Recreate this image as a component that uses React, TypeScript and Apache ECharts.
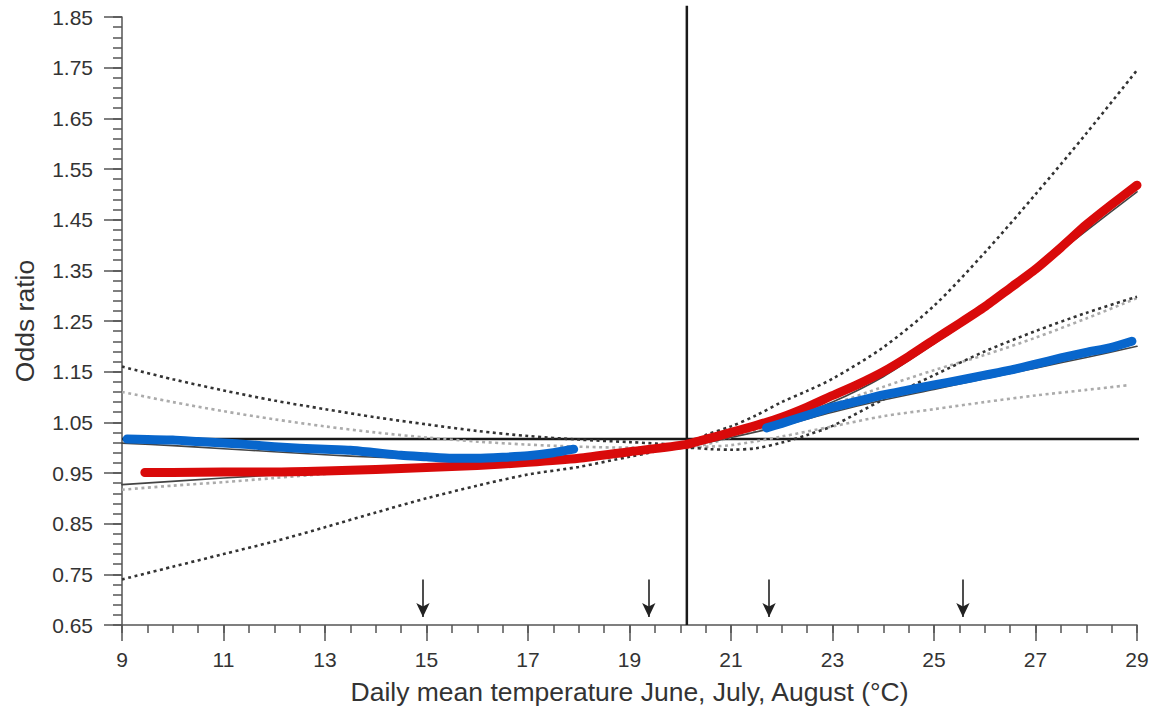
import React, { useEffect, useRef } from 'react';
import * as echarts from 'echarts';

// Axis ticks / labels
const X_TICKS = [9, 11, 13, 15, 17, 19, 21, 23, 25, 27, 29];
const Y_TICKS = [0.65, 0.75, 0.85, 0.95, 1.05, 1.15, 1.25, 1.35, 1.45, 1.55, 1.65, 1.75, 1.85];
const X_MINOR: number[] = [];
for (let i = 0; i <= 40; i++) X_MINOR.push(9 + i * 0.5);
const Y_MINOR: number[] = [];
for (let i = 0; i <= 60; i++) Y_MINOR.push(Math.round((0.65 + i * 0.02) * 1000) / 1000);

const X_TITLE = 'Daily mean temperature June, July, August (°C)';
const Y_TITLE = 'Odds ratio';

// Reference lines and arrows
const REF_X = 20.13;
const REF_Y = 1.017;
const REF_H_X = [9, 29.32];
const REF_V_Y = [0.65, 1.872];
const ARROW_X = [14.93, 19.38, 21.75, 25.57];
const ARROW_TOP = 0.74;
const ARROW_TIP = 0.666;

// Red observed curve
const RED_X = [9.45, 10, 11, 12, 13, 14, 15, 16, 17, 18, 19, 20.1, 20.4, 21, 21.5, 22, 22.5, 23, 23.5, 24, 24.5, 25, 25.5, 26, 26.5, 27, 27.5, 28, 28.5, 29];
const RED_Y = [0.951, 0.951, 0.952, 0.952, 0.954, 0.957, 0.961, 0.965, 0.971, 0.979, 0.992, 1.006, 1.014, 1.03, 1.044, 1.06, 1.08, 1.103, 1.125, 1.15, 1.18, 1.213, 1.245, 1.278, 1.315, 1.352, 1.395, 1.44, 1.48, 1.518];

// Blue observed curve (two segments)
const BLUE1_X = [9.1, 9.5, 10, 10.5, 11, 11.5, 12, 12.5, 13, 13.5, 14, 14.5, 15, 15.5, 16, 16.5, 17, 17.5, 17.9];
const BLUE1_Y = [1.017, 1.016, 1.015, 1.012, 1.009, 1.006, 1.002, 0.999, 0.997, 0.995, 0.99, 0.985, 0.982, 0.979, 0.979, 0.981, 0.984, 0.99, 0.997];
const BLUE2_X = [21.7, 22, 22.5, 23, 23.5, 24, 24.5, 25, 25.5, 26, 26.5, 27, 27.5, 28, 28.5, 28.9];
const BLUE2_Y = [1.039, 1.048, 1.064, 1.08, 1.092, 1.104, 1.114, 1.124, 1.133, 1.143, 1.153, 1.165, 1.177, 1.188, 1.198, 1.21];

// Fitted curves
const FIT_RED_X = [9, 11, 13, 15, 17, 19, 20.1, 21, 22, 23, 24, 25, 26, 27, 28, 29];
const FIT_RED_Y = [0.927, 0.94, 0.952, 0.963, 0.975, 0.99, 1.003, 1.025, 1.052, 1.09, 1.14, 1.205, 1.272, 1.35, 1.428, 1.505];
const FIT_BLUE_X = [9, 10, 11, 12, 13, 14, 15, 16, 17, 18, 19, 20.1, 21, 22, 23, 24, 25, 26, 27, 28, 29];
const FIT_BLUE_Y = [1.009, 1.004, 0.998, 0.992, 0.986, 0.981, 0.978, 0.976, 0.977, 0.983, 0.991, 1.002, 1.02, 1.043, 1.07, 1.094, 1.115, 1.136, 1.157, 1.178, 1.2];

// Confidence bands (red: dark dotted, blue: light dotted)
const UP_RED_X = [9, 10, 11, 12, 13, 14, 15, 16, 17, 18, 19, 20.1, 20.5, 21, 21.5, 22, 22.5, 23, 24, 25, 26, 27, 28, 29];
const UP_RED_Y = [1.16, 1.135, 1.113, 1.093, 1.076, 1.06, 1.046, 1.033, 1.023, 1.016, 1.011, 1.006, 1.025, 1.042, 1.064, 1.09, 1.112, 1.136, 1.198, 1.28, 1.385, 1.5, 1.62, 1.745];
const LO_RED_X = [9, 10, 11, 12, 13, 14, 15, 16, 17, 18, 19, 20.1, 20.6, 21, 21.5, 22, 22.5, 23, 24, 25, 26, 27, 28, 29];
const LO_RED_Y = [0.74, 0.765, 0.79, 0.815, 0.843, 0.872, 0.9, 0.925, 0.947, 0.962, 0.982, 1.0, 0.997, 0.996, 0.999, 1.01, 1.025, 1.043, 1.095, 1.143, 1.19, 1.23, 1.266, 1.298];
const UP_BLUE_X = [9, 10, 11, 12, 13, 14, 15, 16, 17, 18, 19, 20.1, 21, 22, 23, 24, 25, 26, 27, 28, 29];
const UP_BLUE_Y = [1.11, 1.09, 1.072, 1.056, 1.042, 1.03, 1.02, 1.012, 1.006, 1.002, 1.0, 1.0, 1.02, 1.05, 1.085, 1.12, 1.153, 1.183, 1.217, 1.255, 1.295];
const LO_BLUE_X = [9, 10, 11, 12, 13, 14, 15, 16, 17, 18, 19, 20.1, 21, 22, 23, 24, 25, 26, 27, 28, 28.8];
const LO_BLUE_Y = [0.917, 0.925, 0.932, 0.94, 0.948, 0.955, 0.962, 0.969, 0.976, 0.984, 0.992, 1.0, 1.005, 1.022, 1.042, 1.062, 1.076, 1.09, 1.103, 1.114, 1.123];

const FONT = 'Liberation Sans, Arial, Helvetica, sans-serif';
const AXIS_COLOR = '#555';
const TEXT_COLOR = '#333';

const pts = (xs: number[], ys: number[]) => xs.map((x, i) => [x, ys[i]]);

function buildOption(): any {
  const dotted = (name: string, xs: number[], ys: number[], color: string, z: number) => ({
    name,
    type: 'line',
    data: pts(xs, ys),
    symbol: 'none',
    smooth: 0.3,
    z,
    lineStyle: { color, width: 2.6, type: [3, 3.5] },
  });
  const solid = (name: string, xs: number[], ys: number[], color: string, width: number, z: number, smooth: number) => ({
    name,
    type: 'line',
    data: pts(xs, ys),
    symbol: 'none',
    smooth,
    z,
    lineStyle: { color, width, cap: 'round', join: 'round' },
  });

  return {
    animation: false,
    textStyle: { fontFamily: FONT },
    grid: { left: 122, right: 16, top: 17, bottom: 86, containLabel: false },
    xAxis: [
      {
        type: 'value',
        min: 9,
        max: 29,
        position: 'bottom',
        name: X_TITLE,
        nameLocation: 'middle',
        nameGap: 53,
        nameTextStyle: { fontSize: 26.5, color: TEXT_COLOR, fontFamily: FONT },
        axisLine: { show: true, onZero: false, lineStyle: { color: AXIS_COLOR, width: 1.5 } },
        axisTick: { show: true, inside: false, customValues: X_TICKS, length: 16, lineStyle: { color: AXIS_COLOR, width: 1.5 } },
        axisLabel: { customValues: X_TICKS, margin: 24, fontSize: 21, color: TEXT_COLOR, fontFamily: FONT },
        splitLine: { show: false },
      },
      {
        type: 'value',
        min: 9,
        max: 29,
        position: 'bottom',
        axisLine: { show: false, onZero: false },
        axisTick: { show: true, inside: false, customValues: X_MINOR, length: 8, lineStyle: { color: AXIS_COLOR, width: 1.5 } },
        axisLabel: { show: false },
        splitLine: { show: false },
      },
    ],
    yAxis: [
      {
        type: 'value',
        min: 0.65,
        max: 1.85,
        position: 'left',
        name: Y_TITLE,
        nameLocation: 'middle',
        nameGap: 84,
        nameTextStyle: { fontSize: 26.5, color: TEXT_COLOR, fontFamily: FONT },
        axisLine: { show: true, onZero: false, lineStyle: { color: AXIS_COLOR, width: 1.5 } },
        axisTick: { show: true, inside: false, customValues: Y_TICKS, length: 18, lineStyle: { color: AXIS_COLOR, width: 1.5 } },
        axisLabel: { customValues: Y_TICKS, margin: 29, fontSize: 21, color: TEXT_COLOR, fontFamily: FONT, formatter: (v: number) => v.toFixed(2) },
        splitLine: { show: false },
      },
      {
        type: 'value',
        min: 0.65,
        max: 1.85,
        position: 'left',
        axisLine: { show: false, onZero: false },
        axisTick: { show: true, inside: false, customValues: Y_MINOR, length: 9, lineStyle: { color: AXIS_COLOR, width: 1.5 } },
        axisLabel: { show: false },
        splitLine: { show: false },
      },
    ],
    series: [
      {
        name: 'ref-h',
        type: 'line',
        data: REF_H_X.map((x) => [x, REF_Y]),
        symbol: 'none',
        clip: false,
        z: 1,
        lineStyle: { color: '#1a1a1a', width: 2.5 },
        markLine: {
          silent: true,
          symbol: ['none', 'arrow'],
          symbolSize: [10, 14],
          label: { show: false },
          lineStyle: { color: '#222', width: 1.6, type: 'solid' },
          data: ARROW_X.map((x) => [{ coord: [x, ARROW_TOP] }, { coord: [x, ARROW_TIP] }]),
        },
      },
      {
        name: 'ref-v',
        type: 'line',
        data: REF_V_Y.map((y) => [REF_X, y]),
        symbol: 'none',
        clip: false,
        z: 1,
        lineStyle: { color: '#1a1a1a', width: 2.5 },
      },
      dotted('blue CI upper', UP_BLUE_X, UP_BLUE_Y, '#ababab', 2),
      dotted('blue CI lower', LO_BLUE_X, LO_BLUE_Y, '#ababab', 2),
      dotted('red CI upper', UP_RED_X, UP_RED_Y, '#333333', 3),
      dotted('red CI lower', LO_RED_X, LO_RED_Y, '#333333', 3),
      solid('red fit', FIT_RED_X, FIT_RED_Y, '#444444', 1.6, 4, 0.3),
      solid('blue fit', FIT_BLUE_X, FIT_BLUE_Y, '#444444', 1.6, 4, 0.3),
      solid('red', RED_X, RED_Y, '#d90a0a', 9, 5, 0.2),
      solid('blue', BLUE1_X, BLUE1_Y, '#0866cc', 9, 6, 0.2),
      solid('blue (warm)', BLUE2_X, BLUE2_Y, '#0866cc', 9, 6, 0.2),
    ],
  };
}

export default function App() {
  const ref = useRef<HTMLDivElement>(null);
  useEffect(() => {
    if (!ref.current) return;
    const chart = echarts.init(ref.current, null, { renderer: 'svg' });
    chart.setOption(buildOption());
    return () => chart.dispose();
  }, []);
  return (
    <div
      ref={ref}
      style={{ position: 'absolute', left: 0, top: 0, width: 1153, height: 711, background: '#fff' }}
    />
  );
}
